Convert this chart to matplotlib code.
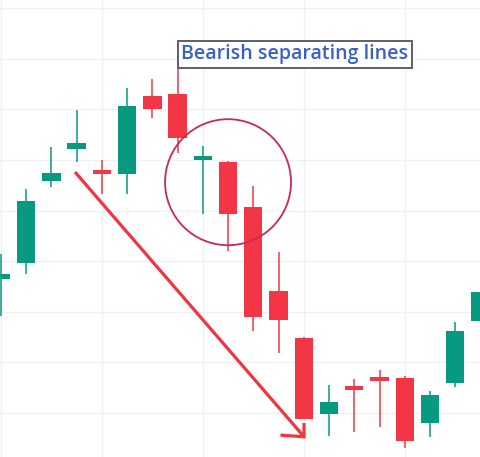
import numpy as np
import matplotlib
matplotlib.use("Agg")
import matplotlib.pyplot as plt
from matplotlib.patches import Ellipse

# candle data (arbitrary price units)
opens  = [126.5, 129.6, 145.8, 152.2, 148.0, 147.2, 162.6, 163.0, 150.0, 149.6,
          140.7, 124.1, 114.8, 99.8, 104.9, 106.9, 106.9, 98.0, 105.9, 118.2]
highs  = [131.4, 144.3, 152.6, 159.9, 150.0, 164.2, 166.0, 170.7, 152.8, 149.8,
          144.9, 131.8, 115.0, 105.5, 106.7, 108.5, 107.3, 104.3, 118.0, 124.3]
lows   = [119.2, 127.5, 144.7, 149.6, 143.3, 143.3, 158.3, 151.4, 139.3, 132.0,
          116.2, 111.9, 98.8, 95.5, 96.2, 97.2, 93.1, 95.3, 105.1, 118.2]
closes = [127.5, 141.9, 147.4, 153.4, 147.2, 160.7, 160.1, 154.3, 150.6, 139.3,
          119.0, 118.4, 98.8, 102.2, 104.5, 106.3, 94.5, 103.6, 116.2, 123.9]

label_text = "Bearish separating lines"
arrow_start = (2.94, 147.6)
arrow_end = (12.01, 95.3)
circle_center = (9.0, 145.6)

green = "#089981"
red = "#f23645"

fig = plt.figure(figsize=(4.8, 4.57), dpi=100)
ax = fig.add_axes([0, 0, 1, 1])

x = np.arange(len(opens))
o = np.array(opens)
c = np.array(closes)
cols = [green if cc >= oo else red for oo, cc in zip(o, c)]

# grid
for gx in range(0, 20, 4):
    ax.axvline(gx, color="#f0f1f4", lw=1, zorder=0)
for gy in range(100, 190, 10):
    ax.axhline(gy, color="#f0f1f4", lw=1, zorder=0)

ax.vlines(x, lows, highs, colors=cols, lw=1.1, zorder=2)
body = np.maximum(np.abs(c - o), 0.8)
ax.bar(x, body, bottom=np.minimum(o, c), width=0.73, color=cols, lw=0, zorder=3)

# arrow
ax.plot([arrow_start[0], arrow_end[0]], [arrow_start[1], arrow_end[1]],
        color="#ee3540", lw=2.3, solid_capstyle="butt", zorder=4)
ax.plot([arrow_end[0] - 0.87, arrow_end[0], arrow_end[0]],
        [arrow_end[1] + 0.3, arrow_end[1], arrow_end[1] + 2.4],
        color="#ee3540", lw=2.3, solid_joinstyle="miter", zorder=4)

# circle
ax.add_patch(Ellipse(circle_center, 4.99, 24.9, fill=False, ec="#c8285a", lw=1.3, zorder=5))

# label
ax.text(7.15, 170.9, label_text, ha="left", va="center", fontsize=14,
        family="Open Sans", weight="semibold", color="#3a5fcd", zorder=6,
        bbox=dict(boxstyle="square,pad=0.18", fc="white", ec="#5d606b", lw=1.4))

ax.set_xlim(-0.032, 18.98)
ax.set_ylim(91.3, 181.6)
ax.axis("off")

fig.savefig("out.png", dpi=100)
